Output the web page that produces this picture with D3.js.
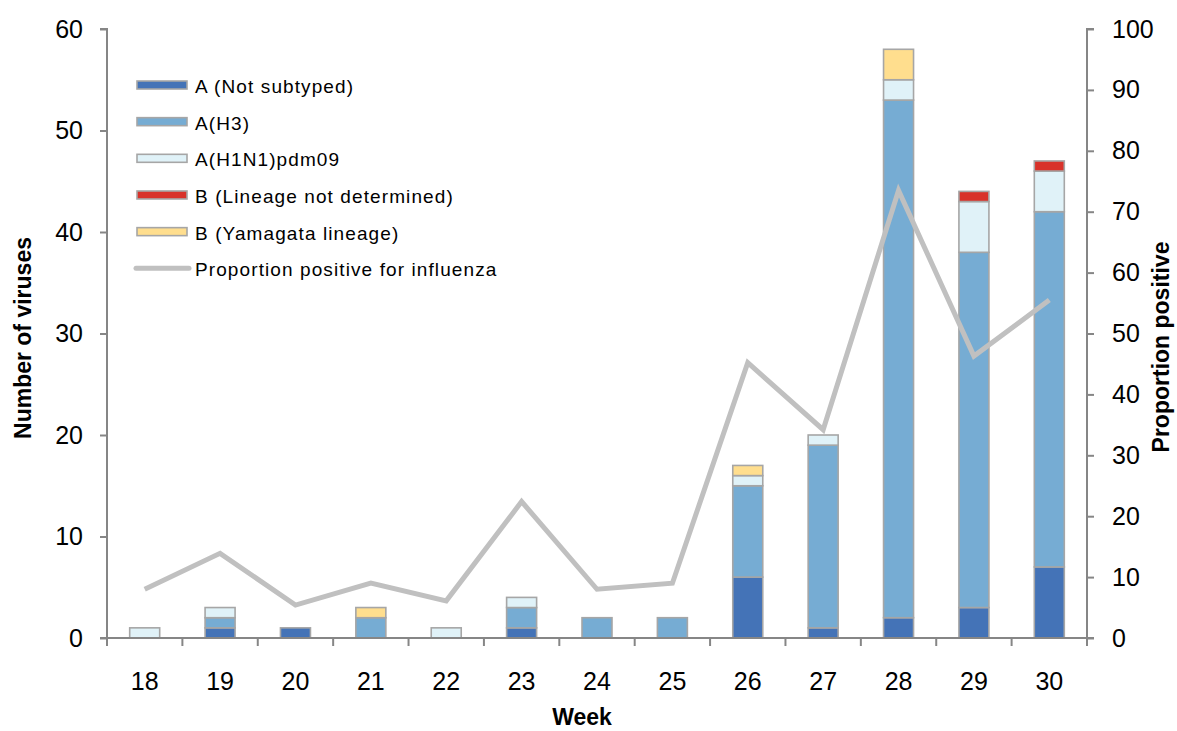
<!DOCTYPE html>
<html><head><meta charset="utf-8">
<script src="https://cdn.jsdelivr.net/npm/d3@7"></script>
<style>body{margin:0;background:#fff;} text{font-family:"Liberation Sans",Arial,sans-serif;}</style>
</head><body>
<svg id="c" width="1177" height="731"></svg>
<script>
const weeks = ["18","19","20","21","22","23","24","25","26","27","28","29","30"];
const aNotSubtyped = [0,1,1,0,0,1,0,0,6,1,2,3,7];
const aH3 = [0,1,0,2,0,2,2,2,9,18,51,35,35];
const aH1N1 = [1,1,0,0,1,1,0,0,1,1,2,5,4];
const bLineageND = [0,0,0,0,0,0,0,0,0,0,0,1,1];
const bYamagata = [0,0,0,1,0,0,0,0,1,0,3,0,0];
const proportion = [8.0,13.9,5.4,9.0,6.1,22.4,8.0,9.0,45.2,34.2,73.5,46.3,55.5];
const leftTicks = [0,10,20,30,40,50,60];
const rightTicks = [0,10,20,30,40,50,60,70,80,90,100];

const seriesNames = ["A (Not subtyped)","A(H3)","A(H1N1)pdm09","B (Lineage not determined)","B (Yamagata lineage)"];
const seriesData = [aNotSubtyped,aH3,aH1N1,bLineageND,bYamagata];
const colors = ["#4473B7","#76ACD3","#E0F2F8","#D8322A","#FFDE8E"];
const lineName = "Proportion positive for influenza";

const svg = d3.select("#c");
const m = {l:107,r:1087,t:29,b:638};
const x = d3.scaleBand().domain(weeks).range([m.l,m.r]).paddingInner(0).paddingOuter(0);
const yL = d3.scaleLinear().domain([0,60]).range([m.b,m.t]);
const yR = d3.scaleLinear().domain([0,100]).range([m.b,m.t]);

const rows = weeks.map((w,i)=>{const o={week:w}; seriesNames.forEach((s,j)=>o[s]=seriesData[j][i]); return o;});
const stack = d3.stack().keys(seriesNames)(rows);
const bw = 30;

const g = svg.append("g");
stack.forEach((layer,j)=>{
  g.selectAll(null).data(layer.filter(d=>d[1]-d[0]>0)).enter().append("rect")
    .attr("x",d=>x(d.data.week)+x.bandwidth()/2-bw/2)
    .attr("width",bw)
    .attr("y",d=>yL(d[1]))
    .attr("height",d=>yL(d[0])-yL(d[1]))
    .attr("fill",colors[j]).attr("stroke","#A6A6A6").attr("stroke-width",1.6);
});

// line
const line = d3.line().x((d,i)=>x(weeks[i])+x.bandwidth()/2).y(d=>yR(d));
svg.append("path").datum(proportion).attr("d",line).attr("fill","none")
  .attr("stroke","#C0C0C0").attr("stroke-width",5).attr("stroke-linejoin","miter");

// axes
const axisColor = "#868686";
const la = svg.append("g").attr("transform",`translate(${m.l},0)`)
  .call(d3.axisLeft(yL).tickValues(leftTicks).tickSize(7).tickPadding(17));
const ra = svg.append("g").attr("transform",`translate(${m.r},0)`)
  .call(d3.axisRight(yR).tickValues(rightTicks).tickSize(7).tickPadding(18));
const xa = svg.append("g").attr("transform",`translate(0,${m.b})`)
  .call(d3.axisBottom(x).tickSize(0).tickPadding(34));
// x ticks at band boundaries
const bounds = weeks.map(w=>x(w)).concat([m.r]);
svg.append("g").selectAll("line").data(bounds).enter().append("line")
  .attr("x1",d=>d).attr("x2",d=>d).attr("y1",m.b).attr("y2",m.b+8)
  .attr("stroke",axisColor).attr("stroke-width",2);
[la,ra,xa].forEach(a=>{
  a.selectAll(".domain").attr("stroke",axisColor).attr("stroke-width",2);
  a.selectAll(".tick line").attr("stroke",axisColor).attr("stroke-width",2);
  a.selectAll("text").attr("font-size",25).attr("fill","#000").attr("font-family","Liberation Sans, Arial, sans-serif");
});
xa.selectAll("text").attr("dy","0.72em");
la.select(".domain").attr("d",`M-7,${m.t}H0V${m.b}H-7`);
ra.select(".domain").attr("d",`M7,${m.t}H0V${m.b}H7`);
xa.select(".domain").attr("d",`M${m.l},0H${m.r}`);

// axis titles
svg.append("text").attr("x",582).attr("y",725).attr("text-anchor","middle")
  .attr("font-size",23).attr("font-weight","bold").text("Week");
svg.append("text").attr("transform",`translate(31,338) rotate(-90)`).attr("text-anchor","middle")
  .attr("font-size",23).attr("font-weight","bold").text("Number of viruses");
svg.append("text").attr("transform",`translate(1169,347) rotate(-90)`).attr("text-anchor","middle")
  .attr("font-size",23).attr("font-weight","bold").text("Proportion positive");

// legend
const lg = svg.append("g");
const ly0 = 85, ldy = 36.66;
seriesNames.forEach((s,j)=>{
  const yy = ly0 + j*ldy;
  lg.append("rect").attr("x",137).attr("y",yy-4).attr("width",50).attr("height",8)
    .attr("fill",colors[j]).attr("stroke","#A6A6A6").attr("stroke-width",1.6);
  lg.append("text").attr("x",195).attr("y",yy+8).attr("font-size",19).attr("letter-spacing",1.1).text(s);
});
const yy = ly0 + 5*ldy;
lg.append("line").attr("x1",136).attr("x2",189).attr("y1",yy).attr("y2",yy)
  .attr("stroke","#C0C0C0").attr("stroke-width",5).attr("stroke-linecap","round");
lg.append("text").attr("x",195).attr("y",yy+8).attr("font-size",19).attr("letter-spacing",1.1).text(lineName);
</script>
</body></html>
